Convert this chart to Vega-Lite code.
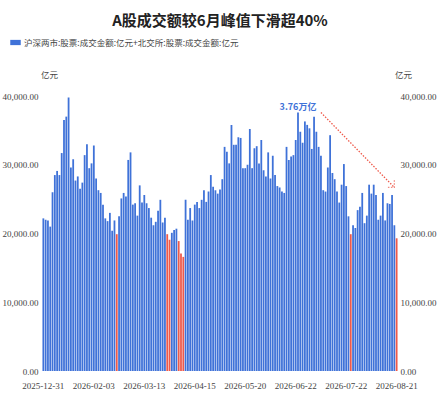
{
  "$schema": "https://vega.github.io/schema/vega-lite/v6.json",
  "width": 356,
  "height": 275,
  "autosize": {"type": "none"},
  "padding": {"left": 42, "top": 96, "right": 41, "bottom": 31},
  "background": "white",
  "config": {
    "view": {"stroke": null},
    "font": "Noto Sans CJK SC"
  },
  "title": {
    "text": "A股成交额较6月峰值下滑超40%",
    "fontSize": 15,
    "fontWeight": "bold",
    "color": "#222222",
    "anchor": "middle",
    "frame": "group",
    "offset": 8
  },
  "datasets": {
    "turnover": [
      {"date": "2025-12-31", "value": 22200},
      {"date": "2026-01-05", "value": 22000},
      {"date": "2026-01-06", "value": 21900},
      {"date": "2026-01-07", "value": 21000},
      {"date": "2026-01-08", "value": 26000},
      {"date": "2026-01-09", "value": 28500},
      {"date": "2026-01-12", "value": 29100},
      {"date": "2026-01-13", "value": 28500},
      {"date": "2026-01-14", "value": 31700},
      {"date": "2026-01-15", "value": 36500},
      {"date": "2026-01-16", "value": 37000},
      {"date": "2026-01-19", "value": 39800},
      {"date": "2026-01-20", "value": 29600},
      {"date": "2026-01-21", "value": 30800},
      {"date": "2026-01-22", "value": 27700},
      {"date": "2026-01-23", "value": 28300},
      {"date": "2026-01-26", "value": 26500},
      {"date": "2026-01-27", "value": 27400},
      {"date": "2026-01-28", "value": 31400},
      {"date": "2026-01-29", "value": 33000},
      {"date": "2026-01-30", "value": 29500},
      {"date": "2026-02-02", "value": 30200},
      {"date": "2026-02-03", "value": 32800},
      {"date": "2026-02-04", "value": 28000},
      {"date": "2026-02-05", "value": 26300},
      {"date": "2026-02-06", "value": 25900},
      {"date": "2026-02-09", "value": 24200},
      {"date": "2026-02-10", "value": 22200},
      {"date": "2026-02-11", "value": 21800},
      {"date": "2026-02-12", "value": 23000},
      {"date": "2026-02-13", "value": 20400},
      {"date": "2026-02-24", "value": 21900},
      {"date": "2026-02-25", "value": 19900},
      {"date": "2026-02-26", "value": 22500},
      {"date": "2026-02-27", "value": 25100},
      {"date": "2026-03-02", "value": 25900},
      {"date": "2026-03-03", "value": 25400},
      {"date": "2026-03-04", "value": 30700},
      {"date": "2026-03-05", "value": 31800},
      {"date": "2026-03-06", "value": 24200},
      {"date": "2026-03-09", "value": 24400},
      {"date": "2026-03-10", "value": 22600},
      {"date": "2026-03-11", "value": 27000},
      {"date": "2026-03-12", "value": 24500},
      {"date": "2026-03-13", "value": 25600},
      {"date": "2026-03-16", "value": 24400},
      {"date": "2026-03-17", "value": 23700},
      {"date": "2026-03-18", "value": 22300},
      {"date": "2026-03-19", "value": 21200},
      {"date": "2026-03-20", "value": 21700},
      {"date": "2026-03-23", "value": 23300},
      {"date": "2026-03-24", "value": 24900},
      {"date": "2026-03-25", "value": 21600},
      {"date": "2026-03-26", "value": 22300},
      {"date": "2026-03-27", "value": 19900},
      {"date": "2026-03-30", "value": 19100},
      {"date": "2026-03-31", "value": 20100},
      {"date": "2026-04-01", "value": 20500},
      {"date": "2026-04-02", "value": 20700},
      {"date": "2026-04-03", "value": 18900},
      {"date": "2026-04-07", "value": 17100},
      {"date": "2026-04-08", "value": 16600},
      {"date": "2026-04-09", "value": 24900},
      {"date": "2026-04-10", "value": 22000},
      {"date": "2026-04-13", "value": 23700},
      {"date": "2026-04-14", "value": 21900},
      {"date": "2026-04-15", "value": 24200},
      {"date": "2026-04-16", "value": 24600},
      {"date": "2026-04-17", "value": 23700},
      {"date": "2026-04-20", "value": 24900},
      {"date": "2026-04-21", "value": 26300},
      {"date": "2026-04-22", "value": 24600},
      {"date": "2026-04-23", "value": 26100},
      {"date": "2026-04-24", "value": 28500},
      {"date": "2026-04-27", "value": 26800},
      {"date": "2026-04-28", "value": 26300},
      {"date": "2026-04-29", "value": 25800},
      {"date": "2026-04-30", "value": 26400},
      {"date": "2026-05-06", "value": 27900},
      {"date": "2026-05-07", "value": 32600},
      {"date": "2026-05-08", "value": 31900},
      {"date": "2026-05-11", "value": 30200},
      {"date": "2026-05-12", "value": 35800},
      {"date": "2026-05-13", "value": 32900},
      {"date": "2026-05-14", "value": 32900},
      {"date": "2026-05-15", "value": 34000},
      {"date": "2026-05-18", "value": 33900},
      {"date": "2026-05-19", "value": 29500},
      {"date": "2026-05-20", "value": 29500},
      {"date": "2026-05-21", "value": 30000},
      {"date": "2026-05-22", "value": 35200},
      {"date": "2026-05-25", "value": 29500},
      {"date": "2026-05-26", "value": 32400},
      {"date": "2026-05-27", "value": 32700},
      {"date": "2026-05-28", "value": 30200},
      {"date": "2026-05-29", "value": 33600},
      {"date": "2026-06-01", "value": 29200},
      {"date": "2026-06-02", "value": 28300},
      {"date": "2026-06-03", "value": 31800},
      {"date": "2026-06-04", "value": 28000},
      {"date": "2026-06-05", "value": 31300},
      {"date": "2026-06-08", "value": 28500},
      {"date": "2026-06-09", "value": 26900},
      {"date": "2026-06-10", "value": 26700},
      {"date": "2026-06-11", "value": 26100},
      {"date": "2026-06-12", "value": 25900},
      {"date": "2026-06-15", "value": 32600},
      {"date": "2026-06-16", "value": 30700},
      {"date": "2026-06-17", "value": 31200},
      {"date": "2026-06-18", "value": 31400},
      {"date": "2026-06-22", "value": 33600},
      {"date": "2026-06-23", "value": 37600},
      {"date": "2026-06-24", "value": 34800},
      {"date": "2026-06-25", "value": 33200},
      {"date": "2026-06-26", "value": 36300},
      {"date": "2026-06-29", "value": 35800},
      {"date": "2026-06-30", "value": 35300},
      {"date": "2026-07-01", "value": 32300},
      {"date": "2026-07-02", "value": 37000},
      {"date": "2026-07-03", "value": 34800},
      {"date": "2026-07-06", "value": 32600},
      {"date": "2026-07-07", "value": 31300},
      {"date": "2026-07-08", "value": 26300},
      {"date": "2026-07-09", "value": 26100},
      {"date": "2026-07-10", "value": 29600},
      {"date": "2026-07-13", "value": 34300},
      {"date": "2026-07-14", "value": 28800},
      {"date": "2026-07-15", "value": 27900},
      {"date": "2026-07-16", "value": 26100},
      {"date": "2026-07-17", "value": 24500},
      {"date": "2026-07-20", "value": 27100},
      {"date": "2026-07-21", "value": 30100},
      {"date": "2026-07-22", "value": 26900},
      {"date": "2026-07-23", "value": 22500},
      {"date": "2026-07-24", "value": 19900},
      {"date": "2026-07-27", "value": 21200},
      {"date": "2026-07-28", "value": 20800},
      {"date": "2026-07-29", "value": 23400},
      {"date": "2026-07-30", "value": 23900},
      {"date": "2026-07-31", "value": 25900},
      {"date": "2026-08-03", "value": 21500},
      {"date": "2026-08-04", "value": 22600},
      {"date": "2026-08-05", "value": 27100},
      {"date": "2026-08-06", "value": 25800},
      {"date": "2026-08-07", "value": 27100},
      {"date": "2026-08-10", "value": 25600},
      {"date": "2026-08-11", "value": 22000},
      {"date": "2026-08-12", "value": 22600},
      {"date": "2026-08-13", "value": 25900},
      {"date": "2026-08-14", "value": 21900},
      {"date": "2026-08-17", "value": 24400},
      {"date": "2026-08-18", "value": 24300},
      {"date": "2026-08-19", "value": 25600},
      {"date": "2026-08-20", "value": 21200},
      {"date": "2026-08-21", "value": 19300}
    ],
    "peak": [
      {"date": "2026-06-23", "value": 37600, "label": "3.76万亿"}
    ],
    "arrow": [
      {"date": "2026-07-07", "value": 37600, "end": false},
      {"date": "2026-08-20", "value": 26700, "end": true}
    ]
  },
  "resolve": {"axis": {"y": "independent"}},
  "layer": [
    {
      "data": {"name": "turnover"},
      "mark": {"type": "bar"},
      "encoding": {
        "x": {
          "field": "date",
          "type": "ordinal",
          "scale": {"paddingInner": 0.22, "paddingOuter": 0.2},
          "axis": {
            "title": null,
            "values": ["2025-12-31", "2026-02-03", "2026-03-13", "2026-04-15", "2026-05-20", "2026-06-22", "2026-07-22", "2026-08-21"],
            "labelAngle": 0,
            "labelFont": "Liberation Sans Narrow",
            "labelFontSize": 9,
            "labelColor": "#444444",
            "labelPadding": 10,
            "domain": false,
            "ticks": false,
            "grid": false
          }
        },
        "y": {
          "field": "value",
          "type": "quantitative",
          "scale": {"domain": [0, 40000], "nice": false},
          "axis": {
            "orient": "left",
            "values": [0, 10000, 20000, 30000, 40000],
            "format": ",.2f",
            "domain": false,
            "ticks": false,
            "grid": false,
            "labelPadding": 4,
            "labelFont": "Liberation Sans Narrow",
            "labelFontSize": 9,
            "labelColor": "#444444",
            "title": "亿元",
            "titleAngle": 0,
            "titleFont": "Noto Sans CJK SC",
            "titleFontSize": 8.5,
            "titleFontWeight": "normal",
            "titleColor": "#444444",
            "titleAlign": "center",
            "titleBaseline": "middle",
            "titleX": 7,
            "titleY": -22
          }
        },
        "color": {
          "datum": "沪深两市:股票:成交金额:亿元+北交所:股票:成交金额:亿元",
          "type": "nominal",
          "condition": {"test": "datum.value < 20000", "value": "#ee5a4b"},
          "scale": {"range": ["#3f72d8"]},
          "legend": {
            "title": null,
            "orient": "none",
            "legendX": -32,
            "legendY": -59,
            "symbolType": "M-1,-0.5L1,-0.5L1,0.5L-1,0.5Z",
            "symbolSize": 110,
            "symbolStrokeWidth": 0,
            "labelFont": "Noto Sans CJK SC",
            "labelFontSize": 8.5,
            "labelColor": "#444444",
            "labelLimit": 400,
            "labelOffset": 3
          }
        }
      }
    },
    {
      "data": {"name": "peak"},
      "mark": {"type": "text", "color": "#3f72d8", "fontWeight": "bold", "fontSize": 9, "baseline": "bottom", "dy": -1, "font": "Liberation Sans Narrow, Noto Sans CJK SC"},
      "encoding": {
        "x": {"field": "date", "type": "ordinal"},
        "y": {
          "field": "value",
          "type": "quantitative",
          "axis": {
            "orient": "right",
            "values": [0, 10000, 20000, 30000, 40000],
            "format": ",.2f",
            "domain": false,
            "ticks": false,
            "grid": false,
            "labelPadding": 2,
            "labelFont": "Liberation Sans Narrow",
            "labelFontSize": 9,
            "labelColor": "#444444",
            "title": "亿元",
            "titleAngle": 0,
            "titleFont": "Noto Sans CJK SC",
            "titleFontSize": 8.5,
            "titleFontWeight": "normal",
            "titleColor": "#444444",
            "titleAlign": "center",
            "titleBaseline": "middle",
            "titleX": 5,
            "titleY": -22
          }
        },
        "text": {"field": "label"}
      }
    },
    {
      "data": {"name": "arrow"},
      "mark": {"type": "line", "color": "#ee5a4b", "strokeWidth": 1.3, "strokeDash": [1.5, 1.5]},
      "encoding": {
        "x": {"field": "date", "type": "ordinal"},
        "y": {"field": "value", "type": "quantitative", "axis": null}
      }
    },
    {
      "data": {"name": "arrow"},
      "transform": [{"filter": "datum.end"}],
      "mark": {"type": "point", "shape": "M-1,-1L0,0L-1,1", "filled": false, "color": "#ee5a4b", "strokeWidth": 1.3, "strokeDash": [1.5, 1.5], "size": 100, "angle": 45},
      "encoding": {
        "x": {"field": "date", "type": "ordinal"},
        "y": {"field": "value", "type": "quantitative", "axis": null}
      }
    }
  ]
}
